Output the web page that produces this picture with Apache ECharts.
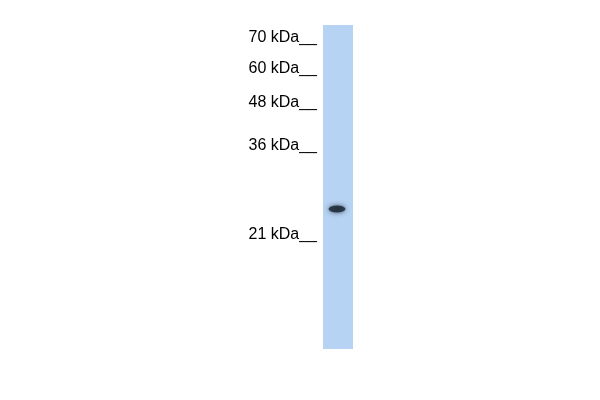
<!DOCTYPE html>
<html>
<head>
<meta charset="utf-8">
<script src="https://cdn.jsdelivr.net/npm/echarts@6/dist/echarts.min.js"></script>
<style>
  html, body { margin: 0; padding: 0; background: #fff; }
  #main { width: 600px; height: 400px; }
</style>
</head>
<body>
<div id="main"></div>
<script>
// marker ladder (kDa) and where each one sits down the lane (% of lane length)
var markerKda = [70, 60, 48, 36, 21];
var markerPos = [3.8, 13.6, 24.1, 37.3, 64.7];
// one lane, one band
var lanes = ['lane1'];
var laneLength = [100];
var bandPos = [56.8];

var myChart = echarts.init(document.getElementById('main'));

var option = {
    backgroundColor: '#ffffff',
    animation: false,
    grid: {
        left: 323,
        right: 247,
        top: 25,
        bottom: 51
    },
    xAxis: {
        type: 'category',
        data: lanes,
        show: false
    },
    yAxis: {
        type: 'value',
        inverse: true,
        min: 0,
        max: 100,
        splitLine: { show: false },
        axisLine: { show: false },
        axisTick: { show: false },
        axisLabel: {
            customValues: markerPos,
            margin: 6,
            color: '#000',
            fontSize: 16,
            fontFamily: 'Liberation Sans, Arial, sans-serif',
            formatter: function (v) {
                var i = markerPos.indexOf(v);
                return i < 0 ? '' : markerKda[i] + ' kDa__';
            }
        }
    },
    series: [
        {
            // the lane itself
            type: 'bar',
            data: laneLength,
            barWidth: '100%',
            itemStyle: { color: '#b6d3f3' },
            silent: true
        },
        {
            // detected band
            type: 'scatter',
            data: bandPos.map(function (p, i) { return [lanes[i], p]; }),
            symbol: 'circle',
            symbolSize: [17, 7],
            symbolOffset: [-1, 0],
            itemStyle: {
                color: '#17232f',
                shadowBlur: 5,
                shadowColor: 'rgba(23,35,47,0.85)'
            },
            z: 5
        }
    ]
};

myChart.setOption(option);
</script>
</body>
</html>
